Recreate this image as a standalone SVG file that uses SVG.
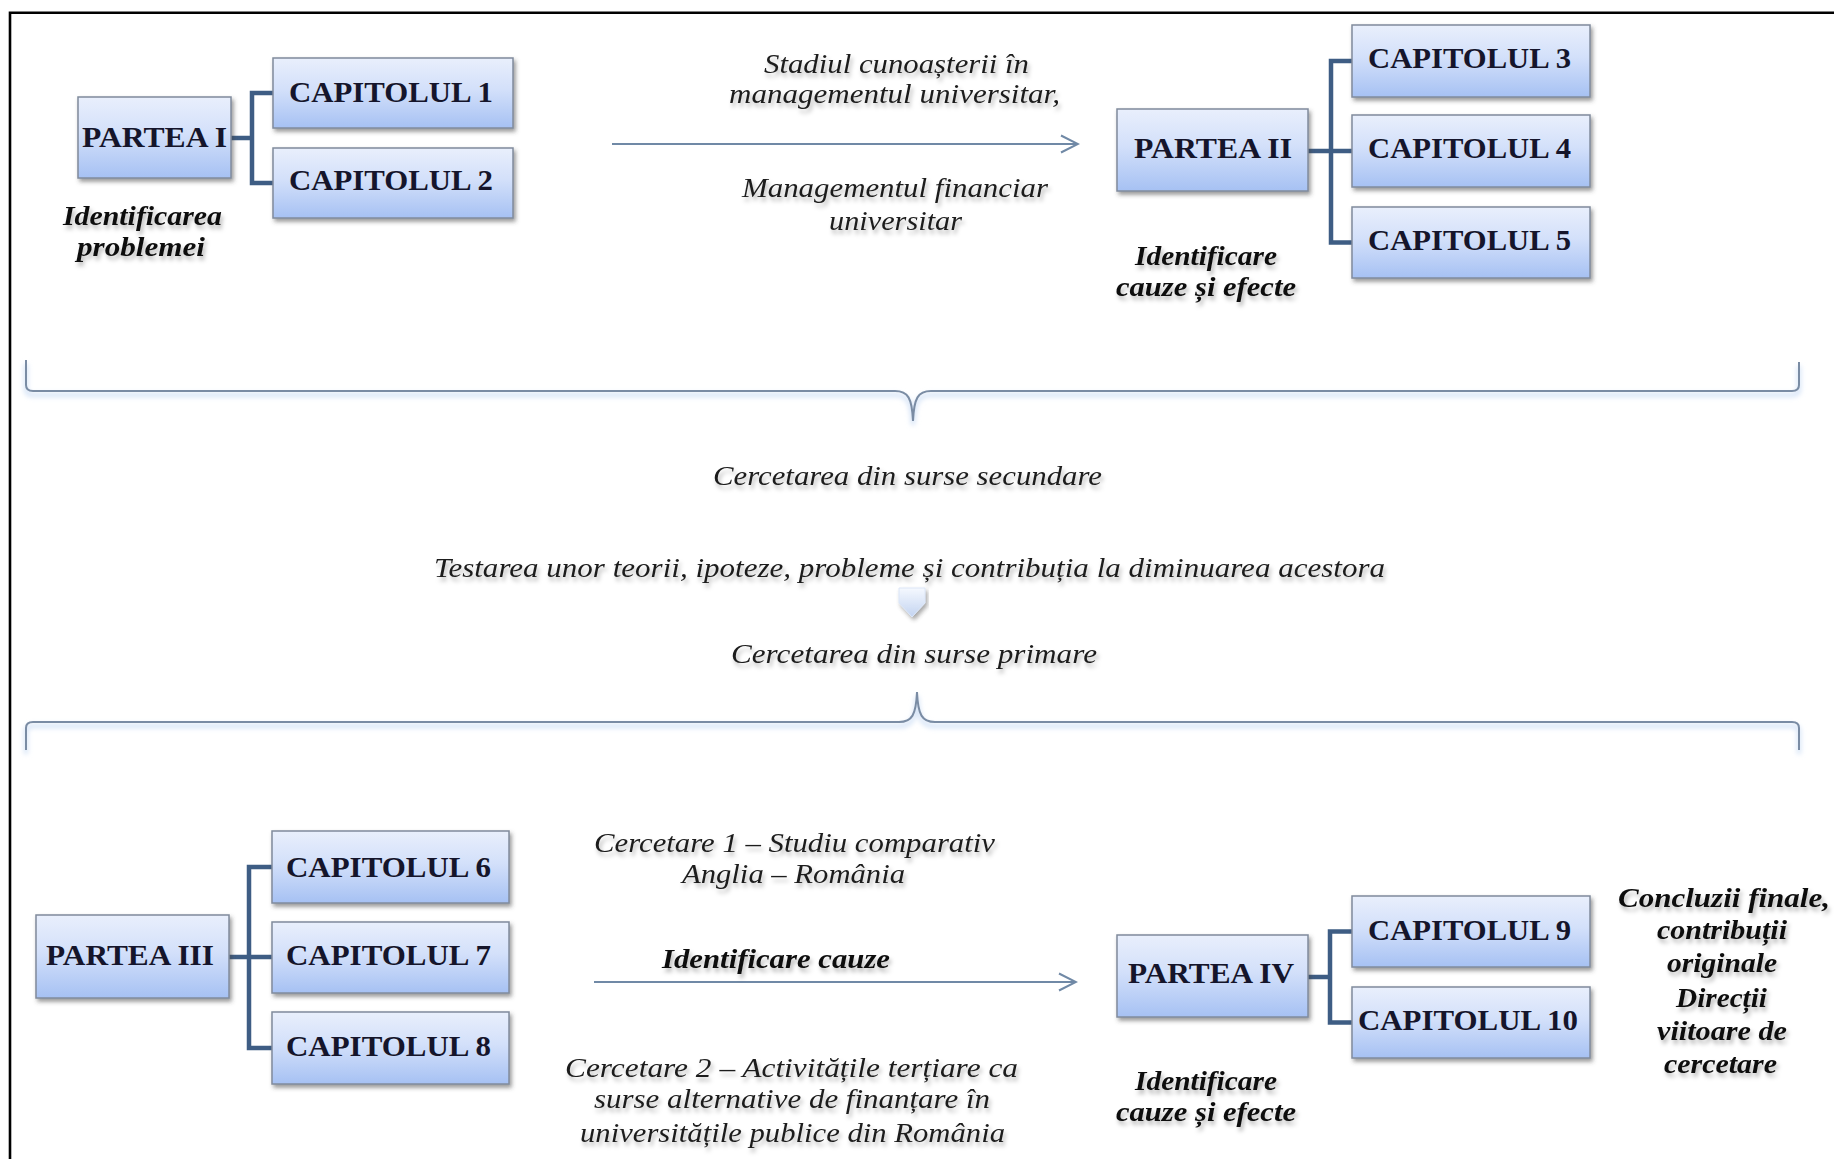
<svg xmlns="http://www.w3.org/2000/svg" width="1834" height="1159" viewBox="0 0 1834 1159">
  <defs>
    <linearGradient id="boxGrad" x1="0" y1="0" x2="0" y2="1">
      <stop offset="0" stop-color="#e9effc"/>
      <stop offset="0.45" stop-color="#d3e0fa"/>
      <stop offset="1" stop-color="#a6c1f3"/>
    </linearGradient>
    <linearGradient id="blockGrad" x1="0" y1="0" x2="0" y2="1">
      <stop offset="0" stop-color="#f4f8ff"/>
      <stop offset="1" stop-color="#b9cdef"/>
    </linearGradient>
    <filter id="boxShadow" x="-10%" y="-15%" width="125%" height="140%">
      <feDropShadow dx="2" dy="3" stdDeviation="2" flood-color="#444" flood-opacity="0.55"/>
    </filter>
    <filter id="txtShadow" x="-10%" y="-40%" width="125%" height="190%">
      <feDropShadow dx="2" dy="4" stdDeviation="2" flood-color="#000" flood-opacity="0.28"/>
    </filter>
    <filter id="braceGlow" x="-5%" y="-50%" width="110%" height="200%">
      <feGaussianBlur stdDeviation="2.5"/>
    </filter>
    <marker id="chev" viewBox="0 0 20 20" refX="18" refY="10" markerWidth="20" markerHeight="20" markerUnits="userSpaceOnUse" orient="auto">
      <path d="M1,1.5 L18,10 L1,18.5" fill="none" stroke="#7089a6" stroke-width="2"/>
    </marker>
    <style>
      .box { fill: url(#boxGrad); stroke: #808b9c; stroke-width: 1.5; filter: url(#boxShadow); }
      .lbl { font-family: "Liberation Serif", "Times New Roman", serif; font-weight: bold; font-size: 29px; fill: #15152b; }
      .it { font-family: "Liberation Serif", "Times New Roman", serif; font-style: italic; font-size: 28px; fill: #1c1c1c; filter: url(#txtShadow); }
      .bi { font-family: "Liberation Serif", "Times New Roman", serif; font-style: italic; font-weight: bold; font-size: 28px; fill: #111; filter: url(#txtShadow); }
      .tree { fill: none; stroke: #3e5d84; stroke-width: 4.5; stroke-linejoin: miter; }
      .arrow { fill: none; stroke: #7089a6; stroke-width: 2; }
      .brace { fill: none; stroke: #7a8ca4; stroke-width: 2; }
      .braceGlow { fill: none; stroke: #d3e2f6; stroke-width: 4; filter: url(#braceGlow); }
      .frame { fill: none; stroke: #000; stroke-width: 2.6; }
    </style>
  </defs>

  <rect x="0" y="0" width="1834" height="1159" fill="#ffffff"/>
  <path class="frame" d="M10,1159 V12.7 H1834"/>

  <!-- connectors -->
  <g id="connectors">
    <path class="tree" d="M231,138 H252 M273,93 H252 V183 H273"/>
    <path class="tree" d="M1308,151 H1352 M1352,61 H1331 V242.5 H1352"/>
    <path class="tree" d="M229,957 H272 M272,867 H249 V1048 H272"/>
    <path class="tree" d="M1308,977 H1330 M1352,931.5 H1330 V1022.5 H1352"/>
    <line class="arrow" x1="612" y1="144" x2="1078" y2="144" marker-end="url(#chev)"/>
    <line class="arrow" x1="594" y1="982" x2="1076" y2="982" marker-end="url(#chev)"/>
    <path class="braceGlow" transform="translate(0,4)" d="M26,360 L26,385 Q26,391 33,391 L895,391 C908,391 912,398 913,421 C914,398 918,391 931,391 L1792,391 Q1799,391 1799,385 L1799,362"/>
    <path class="brace" d="M26,360 L26,385 Q26,391 33,391 L895,391 C908,391 912,398 913,421 C914,398 918,391 931,391 L1792,391 Q1799,391 1799,385 L1799,362"/>
    <path class="braceGlow" transform="translate(0,4)" d="M26,750 L26,728 Q26,722 33,722 L899,722 C912,722 916,715 917,692 C918,715 922,722 935,722 L1792,722 Q1799,722 1799,728 L1799,750"/>
    <path class="brace" d="M26,750 L26,728 Q26,722 33,722 L899,722 C912,722 916,715 917,692 C918,715 922,722 935,722 L1792,722 Q1799,722 1799,728 L1799,750"/>
    <polygon points="899,588 925,588 925,603 912,617 899,603" fill="url(#blockGrad)" stroke="#d6e2f6" stroke-width="1" filter="url(#boxShadow)" opacity="0.85"/>
  </g>

  <!-- nodes -->
  <g id="partea1">
    <rect class="box" x="78" y="97" width="153" height="81"/>
    <text class="lbl" x="82" y="147" textLength="145" lengthAdjust="spacingAndGlyphs">PARTEA I</text>
  </g>
  <g id="cap1">
    <rect class="box" x="273" y="58" width="240" height="70"/>
    <text class="lbl" x="289" y="102" textLength="204" lengthAdjust="spacingAndGlyphs">CAPITOLUL 1</text>
  </g>
  <g id="cap2">
    <rect class="box" x="273" y="148" width="240" height="70"/>
    <text class="lbl" x="289" y="190" textLength="204" lengthAdjust="spacingAndGlyphs">CAPITOLUL 2</text>
  </g>
  <g id="partea2">
    <rect class="box" x="1117" y="109" width="191" height="82"/>
    <text class="lbl" x="1134" y="158" textLength="158" lengthAdjust="spacingAndGlyphs">PARTEA II</text>
  </g>
  <g id="cap3">
    <rect class="box" x="1352" y="25" width="238" height="72"/>
    <text class="lbl" x="1368" y="68" textLength="203" lengthAdjust="spacingAndGlyphs">CAPITOLUL 3</text>
  </g>
  <g id="cap4">
    <rect class="box" x="1352" y="115" width="238" height="72"/>
    <text class="lbl" x="1368" y="158" textLength="203" lengthAdjust="spacingAndGlyphs">CAPITOLUL 4</text>
  </g>
  <g id="cap5">
    <rect class="box" x="1352" y="207" width="238" height="71"/>
    <text class="lbl" x="1368" y="250" textLength="203" lengthAdjust="spacingAndGlyphs">CAPITOLUL 5</text>
  </g>
  <g id="partea3">
    <rect class="box" x="36" y="915" width="193" height="83"/>
    <text class="lbl" x="46" y="965" textLength="168" lengthAdjust="spacingAndGlyphs">PARTEA III</text>
  </g>
  <g id="cap6">
    <rect class="box" x="272" y="831" width="237" height="72"/>
    <text class="lbl" x="286" y="877" textLength="205" lengthAdjust="spacingAndGlyphs">CAPITOLUL 6</text>
  </g>
  <g id="cap7">
    <rect class="box" x="272" y="922" width="237" height="71"/>
    <text class="lbl" x="286" y="965" textLength="205" lengthAdjust="spacingAndGlyphs">CAPITOLUL 7</text>
  </g>
  <g id="cap8">
    <rect class="box" x="272" y="1012" width="237" height="72"/>
    <text class="lbl" x="286" y="1056" textLength="205" lengthAdjust="spacingAndGlyphs">CAPITOLUL 8</text>
  </g>
  <g id="partea4">
    <rect class="box" x="1117" y="935" width="191" height="82"/>
    <text class="lbl" x="1128" y="983" textLength="166" lengthAdjust="spacingAndGlyphs">PARTEA IV</text>
  </g>
  <g id="cap9">
    <rect class="box" x="1352" y="896" width="238" height="71"/>
    <text class="lbl" x="1368" y="940" textLength="203" lengthAdjust="spacingAndGlyphs">CAPITOLUL 9</text>
  </g>
  <g id="cap10">
    <rect class="box" x="1352" y="987" width="238" height="71"/>
    <text class="lbl" x="1358" y="1030" textLength="220" lengthAdjust="spacingAndGlyphs">CAPITOLUL 10</text>
  </g>

  <!-- annotations -->
  <g id="labels">
    <text class="bi" x="63" y="225" textLength="159" lengthAdjust="spacingAndGlyphs">Identificarea</text>
    <text class="bi" x="77" y="256" textLength="128" lengthAdjust="spacingAndGlyphs">problemei</text>

    <text class="it" x="764" y="73" textLength="265" lengthAdjust="spacingAndGlyphs">Stadiul cunoașterii în</text>
    <text class="it" x="729" y="103" textLength="331" lengthAdjust="spacingAndGlyphs">managementul universitar,</text>
    <text class="it" x="742" y="197" textLength="306" lengthAdjust="spacingAndGlyphs">Managementul financiar</text>
    <text class="it" x="829" y="230" textLength="133" lengthAdjust="spacingAndGlyphs">universitar</text>

    <text class="bi" x="1135" y="265" textLength="142" lengthAdjust="spacingAndGlyphs">Identificare</text>
    <text class="bi" x="1116" y="296" textLength="180" lengthAdjust="spacingAndGlyphs">cauze și efecte</text>

    <text class="it" x="713" y="485" textLength="389" lengthAdjust="spacingAndGlyphs">Cercetarea din surse secundare</text>
    <text class="it" x="434" y="577" textLength="951" lengthAdjust="spacingAndGlyphs">Testarea unor teorii, ipoteze, probleme și contribuția la diminuarea acestora</text>
    <text class="it" x="731" y="663" textLength="366" lengthAdjust="spacingAndGlyphs">Cercetarea din surse primare</text>

    <text class="it" x="594" y="852" textLength="401" lengthAdjust="spacingAndGlyphs">Cercetare 1 – Studiu comparativ</text>
    <text class="it" x="682" y="883" textLength="223" lengthAdjust="spacingAndGlyphs">Anglia – România</text>
    <text class="bi" x="662" y="968" textLength="228" lengthAdjust="spacingAndGlyphs">Identificare cauze</text>
    <text class="it" x="565" y="1077" textLength="453" lengthAdjust="spacingAndGlyphs">Cercetare 2 – Activitățile terțiare ca</text>
    <text class="it" x="594" y="1108" textLength="396" lengthAdjust="spacingAndGlyphs">surse alternative de finanțare în</text>
    <text class="it" x="580" y="1142" textLength="425" lengthAdjust="spacingAndGlyphs">universitățile publice din România</text>

    <text class="bi" x="1135" y="1090" textLength="142" lengthAdjust="spacingAndGlyphs">Identificare</text>
    <text class="bi" x="1116" y="1121" textLength="180" lengthAdjust="spacingAndGlyphs">cauze și efecte</text>

    <text class="bi" x="1618" y="907" textLength="212" lengthAdjust="spacingAndGlyphs">Concluzii finale,</text>
    <text class="bi" x="1657" y="939" textLength="130" lengthAdjust="spacingAndGlyphs">contribuții</text>
    <text class="bi" x="1667" y="972" textLength="110" lengthAdjust="spacingAndGlyphs">originale</text>
    <text class="bi" x="1676" y="1007" textLength="91" lengthAdjust="spacingAndGlyphs">Direcții</text>
    <text class="bi" x="1657" y="1040" textLength="130" lengthAdjust="spacingAndGlyphs">viitoare de</text>
    <text class="bi" x="1664" y="1073" textLength="113" lengthAdjust="spacingAndGlyphs">cercetare</text>
  </g>
</svg>
